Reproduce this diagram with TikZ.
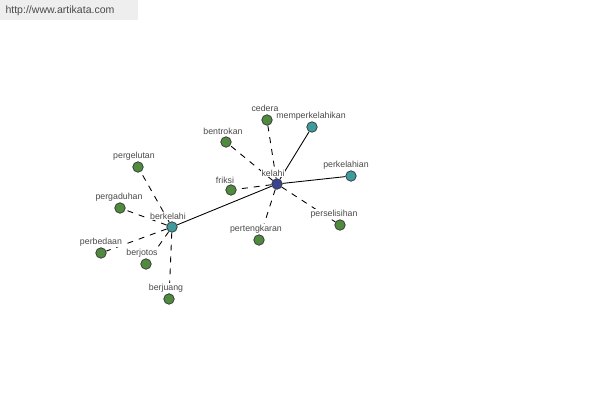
\documentclass[tikz,border=0pt]{standalone}
\usepackage{fontspec}
\setmainfont{Liberation Sans}
\definecolor{word-green}{HTML}{4F8A3F}
\definecolor{word-teal}{HTML}{3F9A9C}
\definecolor{word-core}{HTML}{3B4491}
\definecolor{label-gray}{HTML}{4A4A4A}
\definecolor{banner-bg}{HTML}{EEEEEE}
\begin{document}
\begin{tikzpicture}[x=0.02cm, y=-0.02cm,
    word/.style={circle, draw=black!80, line width=0.4pt, inner sep=0pt,
                 minimum size=0.21cm},
    leaf/.style={word, fill=word-green},
    hub/.style={word, fill=word-teal},
    core/.style={word, fill=word-core},
    tag/.style={font=\fontsize{5}{6}\selectfont, text=label-gray,
                fill=white, inner sep=0.3pt},
    strong/.style={line width=0.5pt},
    weak/.style={line width=0.5pt, dash pattern=on 3.4pt off 3.4pt}]
    % Word map: kelahi in the middle, berkelahi as second hub.
    % Coordinates in pixels of a 600x400 canvas, y pointing down.
    \useasboundingbox (0,0) rectangle (600,400);
    \fill[banner-bg] (0,0) rectangle (138,20);
    \node[font=\fontsize{6}{7}\selectfont, text=label-gray] (site) at (60,11)
          {http://www.artikata.com};
    % nodes
    \node[core] (kelahi) at (277,184) {};
    \node[hub]  (memperkelahikan) at (312,127) {};
    \node[hub]  (perkelahian) at (351,176) {};
    \node[hub]  (berkelahi) at (172,227) {};
    \node[leaf] (cedera) at (267,120) {};
    \node[leaf] (bentrokan) at (226,142) {};
    \node[leaf] (friksi) at (231,190) {};
    \node[leaf] (pertengkaran) at (259,240) {};
    \node[leaf] (perselisihan) at (340,225) {};
    \node[leaf] (pergelutan) at (138,167) {};
    \node[leaf] (pergaduhan) at (120,208) {};
    \node[leaf] (perbedaan) at (101,253) {};
    \node[leaf] (berjotos) at (146,264) {};
    \node[leaf] (berjuang) at (169,299) {};
    % links
    \draw[strong] (kelahi) -- (memperkelahikan);
    \draw[strong] (kelahi) -- (perkelahian);
    \draw[strong] (kelahi) -- (berkelahi);
    \foreach \w in {cedera, bentrokan, friksi, pertengkaran, perselisihan}
      \draw[weak] (kelahi) -- (\w);
    \foreach \w in {pergelutan, pergaduhan, perbedaan, berjotos, berjuang}
      \draw[weak] (berkelahi) -- (\w);
    % labels
    \node[tag] at (273,173) {kelahi};
    \node[tag] at (311,116) {memperkelahikan};
    \node[tag] at (346,165) {perkelahian};
    \node[tag] at (168,216) {berkelahi};
    \node[tag] at (265,108) {cedera};
    \node[tag] at (223,131) {bentrokan};
    \node[tag] at (225,180) {friksi};
    \node[tag] at (256,229) {pertengkaran};
    \node[tag] at (334,214) {perselisihan};
    \node[tag] at (134,156) {pergelutan};
    \node[tag] at (119,197) {pergaduhan};
    \node[tag] at (101,242) {perbedaan};
    \node[tag] at (142,253) {berjotos};
    \node[tag] at (166,288) {berjuang};
  \end{tikzpicture}
\end{document}
